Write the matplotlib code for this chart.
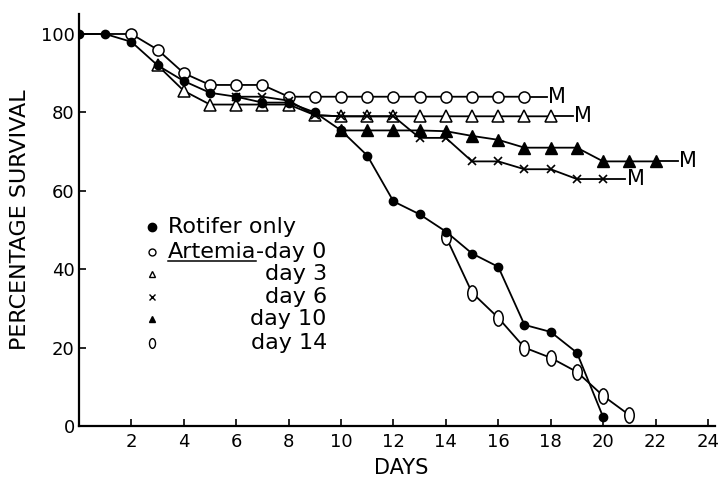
import numpy as np
import matplotlib
matplotlib.use('Agg')
import matplotlib.pyplot as plt
from matplotlib.markers import MarkerStyle
from matplotlib.transforms import Affine2D
from matplotlib.lines import Line2D

plt.rcParams['font.family'] = 'DejaVu Sans'

# Daten
days_rotifer = np.arange(0, 21)
surv_rotifer = [100, 100, 98, 92, 88, 85, 84, 82.5, 82.5, 80, 75.4, 69, 57.3, 54, 49.6,
                44, 40.6, 25.8, 24, 18.7, 2.3]

days_d0 = np.arange(0, 18)
surv_d0 = [100, 100, 100, 96, 90, 87, 87, 87, 84, 84, 84, 84, 84, 84, 84, 84, 84, 84]

days_d3 = np.arange(3, 19)
surv_d3 = [92, 85.5, 82, 82, 82, 82, 79.3, 79, 79, 79, 79, 79, 79, 79, 79, 79]

days_d6 = np.arange(6, 21)
surv_d6 = [84, 84, 83, 79.3, 79, 79, 79, 73.5, 73.5, 67.5, 67.5, 65.5, 65.5, 63, 63]

days_d10 = np.arange(10, 23)
surv_d10 = [75.4, 75.4, 75.4, 75.4, 75.2, 74, 73, 71, 71, 71, 67.5, 67.5, 67.5]

days_d14 = np.arange(14, 22)
surv_d14 = [48.3, 34, 27.6, 20, 17.4, 13.8, 7.7, 2.8]

legend_labels = ['Rotifer only', 'Artemia', '-day 0', 'day 3', 'day 6', 'day 10', 'day 14']

x_ticks = np.arange(2, 25, 2)
y_ticks = np.arange(0, 101, 20)

# Ellipse fuer "0"-Marker
ell = MarkerStyle('o', fillstyle='full', transform=Affine2D().scale(0.62, 1.0))

fig = plt.figure(figsize=(7.28, 4.8), dpi=100)
ax = fig.add_axes([79/728, 54/480, 636/728, 412/480])

lw = 1.3
ax.plot(days_d0, surv_d0, '-', color='k', lw=lw, marker='o', ms=8, mfc='white', mec='k',
        mew=1.1, markevery=list(range(2, len(days_d0))), zorder=2)
ax.plot(days_d3, surv_d3, '-', color='k', lw=lw, marker='^', ms=8, mfc='white', mec='k',
        mew=1.1, zorder=3)
ax.plot(days_d6, surv_d6, '-', color='k', lw=lw, marker='x', ms=6, mew=1.2, zorder=4)
ax.plot(days_d10, surv_d10, '-', color='k', lw=lw, marker='^', ms=8, mfc='k', mec='k', zorder=5)
ax.plot(days_d14, surv_d14, '-', color='k', lw=lw, marker=ell, ms=11, mfc='white', mec='k',
        mew=1.1, zorder=6)
ax.plot(days_rotifer, surv_rotifer, '-', color='k', lw=lw, marker='o', ms=6, mfc='k', mec='k',
        zorder=7)

# "M" am Ende der ueberlebenden Reihen
for dd, ss in [(days_d0, surv_d0), (days_d3, surv_d3), (days_d6, surv_d6), (days_d10, surv_d10)]:
    ax.plot([dd[-1], dd[-1] + 0.85], [ss[-1], ss[-1]], color='k', lw=lw, zorder=1)
    ax.text(dd[-1] + 0.9, ss[-1], 'M', fontsize=15, va='center', ha='left')

ax.set_xlim(0, 24.27)
ax.set_ylim(0, 105.1)
ax.set_xticks(x_ticks)
ax.set_yticks(y_ticks)
ax.tick_params(direction='in', length=5, width=1.2, labelsize=13)
ax.tick_params(axis='x', pad=5)
ax.tick_params(axis='y', pad=3)
for s in ['top', 'right']:
    ax.spines[s].set_visible(False)
for s in ['left', 'bottom']:
    ax.spines[s].set_linewidth(1.6)

ax.set_xlabel('DAYS', fontsize=15)
ax.set_ylabel('PERCENTAGE SURVIVAL', fontsize=16)
ax.xaxis.set_label_coords(0.506, -0.078)
ax.yaxis.set_label_coords(-0.077, 0.5)

# Legende von Hand
leg_x = 2.8
leg_tx = 3.4
leg_y = [50.8, 44.4, 38.8, 32.9, 27.3, 21.2]
fs_leg = 16
ax.plot(leg_x, leg_y[0], 'o', color='k', ms=6)
ax.plot(leg_x, leg_y[1], 'o', mfc='white', mec='k', ms=5)
ax.plot(leg_x, leg_y[2], '^', mfc='white', mec='k', ms=5)
ax.plot(leg_x, leg_y[3], 'x', color='k', ms=4.5)
ax.plot(leg_x, leg_y[4], '^', color='k', ms=5)
ax.plot(leg_x, leg_y[5], marker=ell, mfc='white', mec='k', ms=7, ls='none')

ax.text(leg_tx, leg_y[0], legend_labels[0], fontsize=fs_leg, va='center', ha='left')
t_art = ax.text(leg_tx, leg_y[1], legend_labels[1], fontsize=fs_leg, va='center', ha='left')
t_d0 = ax.annotate(legend_labels[2], xy=(1, 0.5), xycoords=t_art, fontsize=fs_leg,
                   va='center', ha='left')

fig.canvas.draw()
bb = t_art.get_window_extent()
bb0 = t_d0.get_window_extent()
right_x = ax.transData.inverted().transform((bb0.x1, 0))[0]
for lab, yy in zip(legend_labels[3:], leg_y[2:]):
    ax.text(right_x, yy, lab, fontsize=fs_leg, va='center', ha='right')

# Unterstreichung "Artemia"
fig.add_artist(Line2D([bb.x0, bb.x1], [bb.y0 + 1, bb.y0 + 1], color='k', lw=1.1,
                      transform=None))

fig.savefig('out.png', dpi=100)
